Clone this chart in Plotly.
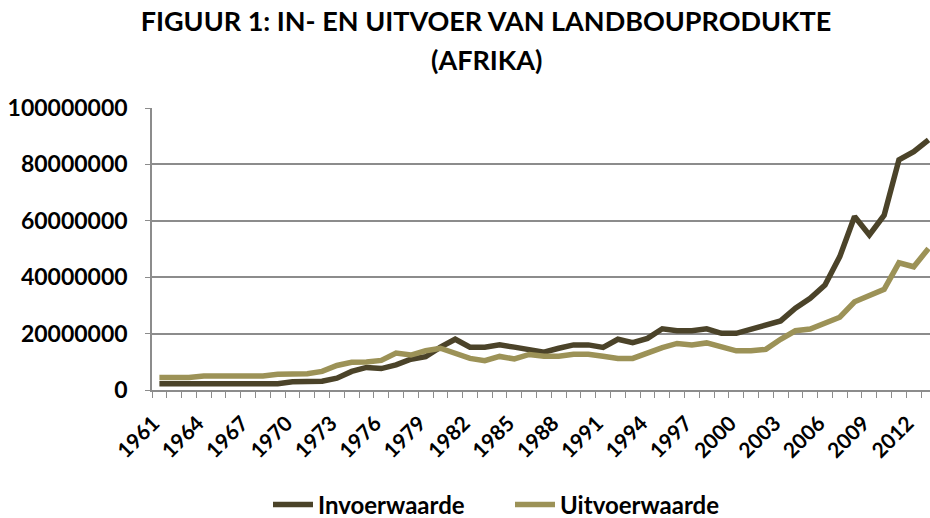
import plotly.graph_objects as go

years = list(range(1961, 2014))
invoer = [2.2, 2.2, 2.2, 2.2, 2.2, 2.2, 2.2, 2.2, 2.2, 2.9,
          2.9, 3.1, 4.2, 6.6, 8.0, 7.6, 8.9, 10.9, 11.8, 15.2,
          18.0, 15.2, 15.2, 16.0, 15.2, 14.2, 13.4, 14.8, 16.0, 16.0,
          15.1, 18.0, 16.8, 18.3, 21.7, 21.0, 21.0, 21.7, 20.1, 20.1,
          21.7, 23.1, 24.5, 29.0, 32.5, 37.2, 47.3, 61.5, 55.0, 62.0,
          81.6, 84.5, 88.7]
uitvoer = [4.4, 4.4, 4.4, 5.0, 5.0, 5.0, 5.0, 5.0, 5.6, 5.8,
           5.8, 6.6, 8.7, 9.8, 9.9, 10.5, 13.1, 12.4, 13.9, 14.8,
           12.8, 11.2, 10.4, 11.9, 11.0, 12.6, 12.0, 12.0, 12.7, 12.7,
           12.0, 11.2, 11.2, 13.3, 15.0, 16.5, 16.0, 16.7, 15.4, 13.9,
           13.9, 14.4, 18.0, 21.0, 21.6, 23.8, 25.8, 31.3, 33.7, 35.7,
           45.1, 43.7, 50.2]
invoer_vals = [v * 1e6 for v in invoer]
uitvoer_vals = [v * 1e6 for v in uitvoer]
tick_years = list(range(1961, 2013, 3))
y_ticks = [0, 20000000, 40000000, 60000000, 80000000, 100000000]

FONT = "Lato"
L, R, T, B = 152, 0, 108, 128
PW, PH = 930 - L - R, 518 - T - B

fig = go.Figure()
fig.add_trace(go.Scatter(x=years, y=invoer_vals, mode="lines", name="Invoerwaarde",
                         line=dict(color="#4b4329", width=5.5)))
fig.add_trace(go.Scatter(x=years, y=uitvoer_vals, mode="lines", name="Uitvoerwaarde",
                         line=dict(color="#9c9257", width=5.5)))

fig.update_layout(
    width=930, height=518,
    margin=dict(l=L, r=R, t=T, b=B, autoexpand=False),
    paper_bgcolor="white", plot_bgcolor="white",
    title=dict(text="FIGUUR 1: IN- EN UITVOER VAN LANDBOUPRODUKTE",
               x=486/930, xanchor="center", y=1 - 22/518, yanchor="middle",
               font=dict(family=FONT, size=27, color="black", weight="bold")),
    annotations=[dict(text="(AFRIKA)", xref="paper", yref="paper",
                      x=(486 - L) / PW, y=1 + (T - 60) / PH,
                      xanchor="center", yanchor="middle", showarrow=False,
                      font=dict(family=FONT, size=27, color="black", weight="bold"))],
    legend=dict(orientation="h", x=(268 - L) / PW, xanchor="left",
                y=(T + PH - 505) / PH, yanchor="middle",
                font=dict(family=FONT, size=24, color="black", weight="bold"),
                itemwidth=40, tracegroupgap=0, entrywidth=187, entrywidthmode="pixels"),
    font=dict(family=FONT, color="black"),
)
fig.update_yaxes(range=[0, 100000000], tickvals=y_ticks,
                 ticktext=[str(v) for v in y_ticks], automargin=False,
                 tickfont=dict(family=FONT, size=23, color="black", weight="bold"),
                 showgrid=True, gridcolor="#8c8c8c", gridwidth=1.5,
                 showline=True, linecolor="#8c8c8c", linewidth=1.5,
                 ticks="outside", ticklen=5, tickcolor="#8c8c8c",
                 ticklabelstandoff=13,
                 zeroline=False)
fig.update_xaxes(range=[1960.5, 2013.1], tickvals=tick_years,
                 ticktext=[str(y) for y in tick_years], automargin=False,
                 tickangle=-45, tickfont=dict(family=FONT, size=21, color="black", weight="bold"),
                 showgrid=False, showline=True, linecolor="#8c8c8c", linewidth=1.5,
                 ticks="", ticklabelstandoff=11, ticklabelshift=-6,
                 minor=dict(tick0=1960.5, dtick=1, ticks="outside", ticklen=6,
                            tickcolor="#8c8c8c", showgrid=False),
                 zeroline=False)
fig.write_html("out.html", config={"displayModeBar": False},
               post_script="document.body.style.margin='0';document.body.style.overflow='hidden';")
